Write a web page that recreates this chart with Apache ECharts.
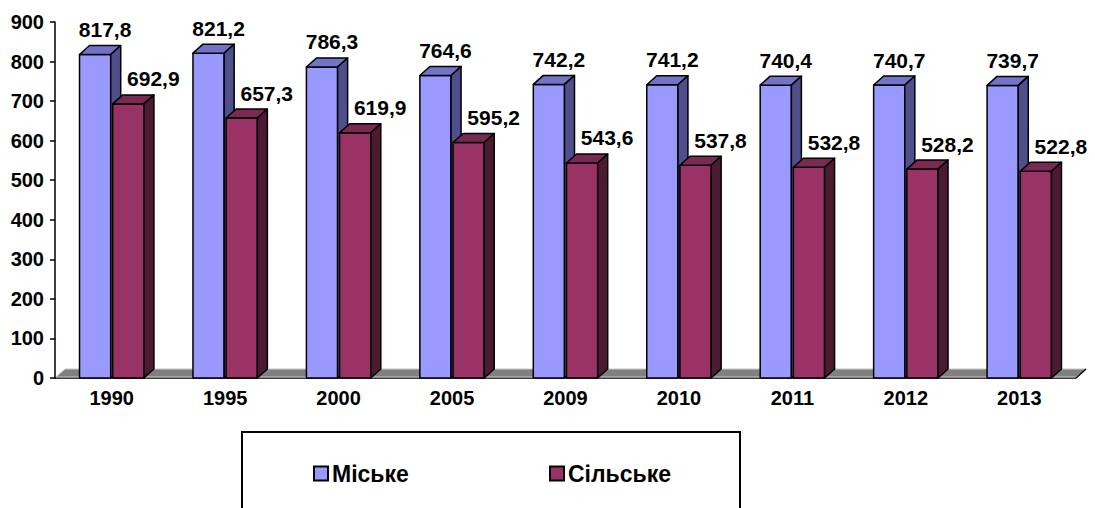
<!DOCTYPE html>
<html>
<head>
<meta charset="utf-8">
<script src="https://cdn.jsdelivr.net/npm/echarts@6/dist/echarts.min.js"></script>
<style>
    html, body { margin: 0; padding: 0; background: #fff; }
    #chart { width: 1095px; height: 508px; }
</style>
</head>
<body>
<div id="chart"></div>
<script>
var years = ['1990', '1995', '2000', '2005', '2009', '2010', '2011', '2012', '2013'];
var urban = [817.8, 821.2, 786.3, 764.6, 742.2, 741.2, 740.4, 740.7, 739.7];
var rural = [692.9, 657.3, 619.9, 595.2, 543.6, 537.8, 532.8, 528.2, 522.8];
var yTicks = [0, 100, 200, 300, 400, 500, 600, 700, 800, 900];

// глибина 3D-ефекту
var DX = 10, DY = 9;
var FONT = 'Liberation Sans, Arial, sans-serif';

function fmt(v) {
    return v.toFixed(1).replace('.', ',');
}

function toData(arr) {
    var res = [];
    for (let i = 0; i < arr.length; i++) {
        res.push([i, arr[i]]);
    }
    return res;
}

function bar3d(colors, left, labelShift) {
    return function (params, api) {
        var idx = api.value(0), val = api.value(1);
        var base = api.coord([idx, 0]);
        var top = api.coord([idx, val]);
        var band = api.size([1, 0])[0];
        var w = band * 0.275;
        var x0 = left ? base[0] - w - 1 : base[0] + 1;
        var x1 = x0 + w;
        var y0 = top[1], y1 = base[1];
        var line = {stroke: '#000', lineWidth: 1.5, lineJoin: 'round'};
        return {
            type: 'group',
            children: [
                {
                    type: 'polygon',
                    shape: {points: [[x0, y0], [x1, y0], [x1, y1], [x0, y1]]},
                    style: Object.assign({fill: colors[0]}, line)
                },
                {
                    type: 'polygon',
                    shape: {points: [[x0, y0], [x0 + DX, y0 - DY], [x1 + DX, y0 - DY], [x1, y0]]},
                    style: Object.assign({fill: colors[1]}, line)
                },
                {
                    type: 'polygon',
                    shape: {points: [[x1, y0], [x1 + DX, y0 - DY], [x1 + DX, y1 - DY], [x1, y1]]},
                    style: Object.assign({fill: colors[2]}, line)
                },
                {
                    type: 'text',
                    style: {
                        x: x0 + w / 2 + labelShift,
                        y: y0 - DY - 16,
                        text: fmt(val),
                        align: 'center',
                        verticalAlign: 'middle',
                        font: 'bold 21px ' + FONT,
                        fill: '#000'
                    }
                }
            ]
        };
    };
}

function floor(params, api) {
    var cs = params.coordSys;
    var yb = cs.y + cs.height;
    var xl = cs.x, xr = cs.x + cs.width;
    return {
        type: 'group',
        children: [
            {
                type: 'polygon',
                shape: {points: [[xl + 1, yb - 1], [xl + DX, yb - DY], [xr + DX, yb - DY], [xr, yb - 1]]},
                style: {fill: '#808080', stroke: '#c8c8c8', lineWidth: 1}
            },
            {
                type: 'line',
                shape: {x1: xr, y1: yb, x2: xr + DX, y2: yb - DY},
                style: {stroke: '#000', lineWidth: 1.5}
            }
        ]
    };
}

var legendText = {color: '#000', fontWeight: 'bold', fontSize: 23, fontFamily: FONT, padding: [0, 0, 0, -1]};

var chart = echarts.init(document.getElementById('chart'), null, {renderer: 'svg'});
var option = {
    animation: false,
    grid: {left: 55, right: 19, top: 22, bottom: 130},
    xAxis: {
        type: 'category',
        data: years,
        axisLine: {lineStyle: {color: '#000', width: 1.5}},
        axisTick: {length: 6, lineStyle: {color: '#000', width: 1.5}},
        axisLabel: {color: '#000', fontWeight: 'bold', fontSize: 20, fontFamily: FONT, margin: 10}
    },
    yAxis: {
        type: 'value',
        min: yTicks[0],
        max: yTicks[yTicks.length - 1],
        interval: 100,
        splitLine: {show: false},
        axisLine: {show: true, lineStyle: {color: '#000', width: 1.5}},
        axisTick: {show: true, length: 5, lineStyle: {color: '#000', width: 1.5}},
        axisLabel: {color: '#000', fontWeight: 'bold', fontSize: 20, fontFamily: FONT, margin: 11}
    },
    legend: [
        {
            data: [{name: 'Міське', icon: 'rect'}],
            left: 313, top: 462, padding: 0,
            itemWidth: 14, itemHeight: 14, itemGap: 5,
            textStyle: legendText
        },
        {
            data: [{name: 'Сільське', icon: 'rect'}],
            left: 549, top: 462, padding: 0,
            itemWidth: 14, itemHeight: 14, itemGap: 5,
            textStyle: legendText
        }
    ],
    graphic: [
        {
            type: 'rect',
            shape: {x: 242, y: 432, width: 498, height: 100},
            style: {fill: 'none', stroke: '#000', lineWidth: 2}
        }
    ],
    series: [
        {
            type: 'custom',
            name: 'floor',
            data: [[0, 0]],
            renderItem: floor,
            silent: true,
            z: 1
        },
        {
            type: 'custom',
            name: 'Міське',
            data: toData(urban),
            renderItem: bar3d(['#9999FF', '#7373C8', '#4F4F8C'], true, 10),
            itemStyle: {color: '#9999FF', borderColor: '#000', borderWidth: 1.5},
            z: 2
        },
        {
            type: 'custom',
            name: 'Сільське',
            data: toData(rural),
            renderItem: bar3d(['#993366', '#7A2952', '#4D1A33'], false, 25),
            itemStyle: {color: '#993366', borderColor: '#000', borderWidth: 1.5},
            z: 3
        }
    ]
};
chart.setOption(option);
</script>
</body>
</html>
